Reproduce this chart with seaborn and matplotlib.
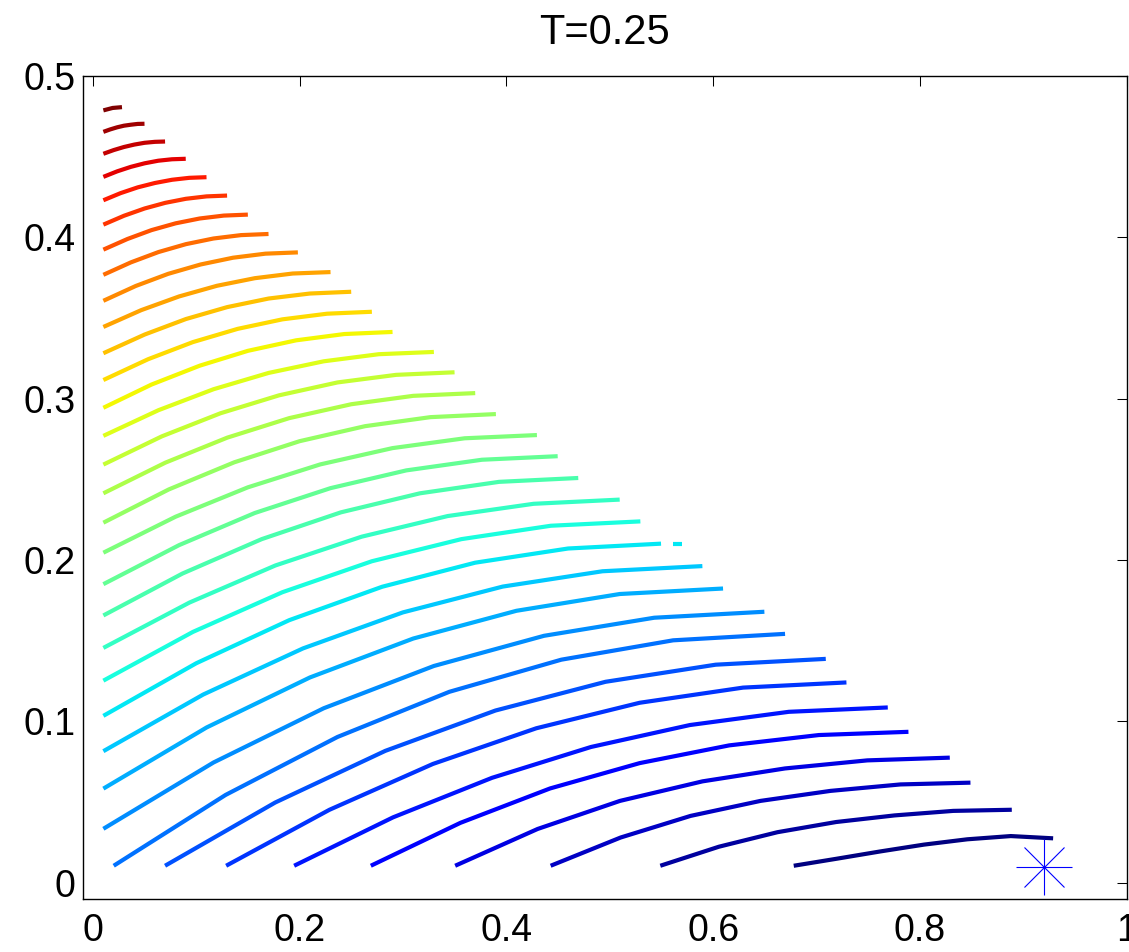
import numpy as np
import pandas as pd
import matplotlib
matplotlib.use("Agg")
import matplotlib.pyplot as plt
import seaborn as sns

title_text = "T=0.25"
x_ticks = [0, 0.2, 0.4, 0.6, 0.8, 1.0]
x_tick_labels = ["0", "0.2", "0.4", "0.6", "0.8", "1"]
y_ticks = [0, 0.1, 0.2, 0.3, 0.4, 0.5]
y_tick_labels = ["0", "0.1", "0.2", "0.3", "0.4", "0.5"]

curve_x = [
    [0.0100, 0.0190, 0.0280],
    [0.0100, 0.0166, 0.0233, 0.0299, 0.0365, 0.0432, 0.0498],
    [0.0100, 0.0200, 0.0299, 0.0399, 0.0498, 0.0598, 0.0697],
    [0.0100, 0.0233, 0.0366, 0.0499, 0.0631, 0.0764, 0.0897],
    [0.0100, 0.0266, 0.0433, 0.0599, 0.0765, 0.0932, 0.1098],
    [0.0100, 0.0300, 0.0499, 0.0699, 0.0898, 0.1098, 0.1297],
    [0.0100, 0.0333, 0.0566, 0.0799, 0.1032, 0.1265, 0.1498],
    [0.0100, 0.0366, 0.0633, 0.0899, 0.1165, 0.1432, 0.1698],
    [0.0100, 0.0414, 0.0727, 0.1041, 0.1355, 0.1668, 0.1982],
    [0.0100, 0.0466, 0.0833, 0.1199, 0.1565, 0.1932, 0.2298],
    [0.0100, 0.0500, 0.0899, 0.1299, 0.1699, 0.2098, 0.2498],
    [0.0100, 0.0533, 0.0966, 0.1399, 0.1832, 0.2265, 0.2698],
    [0.0100, 0.0566, 0.1033, 0.1499, 0.1965, 0.2432, 0.2898],
    [0.0100, 0.0633, 0.1166, 0.1699, 0.2232, 0.2765, 0.3298],
    [0.0100, 0.0666, 0.1233, 0.1799, 0.2365, 0.2932, 0.3498],
    [0.0100, 0.0700, 0.1299, 0.1899, 0.2499, 0.3098, 0.3698],
    [0.0100, 0.0733, 0.1366, 0.1999, 0.2632, 0.3265, 0.3898],
    [0.0100, 0.0799, 0.1498, 0.2198, 0.2897, 0.3596, 0.4295],
    [0.0100, 0.0833, 0.1565, 0.2298, 0.3031, 0.3763, 0.4496],
    [0.0100, 0.0866, 0.1632, 0.2398, 0.3163, 0.3929, 0.4695],
    [0.0100, 0.0933, 0.1765, 0.2598, 0.3431, 0.4263, 0.5096],
    [0.0100, 0.0966, 0.1832, 0.2698, 0.3564, 0.4430, 0.5296],
    [0.0100, 0.0999, 0.1899, 0.2798, 0.3697, 0.4597, 0.5496],
    [0.0100, 0.1066, 0.2032, 0.2998, 0.3964, 0.4930, 0.5896],
    [0.0100, 0.1099, 0.2099, 0.3098, 0.4097, 0.5097, 0.6096],
    [0.0100, 0.1166, 0.2232, 0.3298, 0.4364, 0.5430, 0.6496],
    [0.0200, 0.1283, 0.2365, 0.3448, 0.4531, 0.5613, 0.6696],
    [0.0697, 0.1763, 0.2828, 0.3894, 0.4959, 0.6025, 0.7090],
    [0.1288, 0.2288, 0.3289, 0.4289, 0.5289, 0.6290, 0.7290],
    [0.1946, 0.2903, 0.3861, 0.4818, 0.5775, 0.6733, 0.7690],
    [0.2688, 0.3555, 0.4422, 0.5289, 0.6156, 0.7023, 0.7890],
    [0.3504, 0.4302, 0.5099, 0.5897, 0.6695, 0.7492, 0.8290],
    [0.4428, 0.5105, 0.5782, 0.6459, 0.7136, 0.7813, 0.8490],
    [0.5489, 0.6056, 0.6623, 0.7190, 0.7756, 0.8323, 0.8890],
    [0.6780, 0.7200, 0.7620, 0.8040, 0.8460, 0.8880, 0.9290],
]
curve_y = [
    [0.4787, 0.4802, 0.4807],
    [0.4654, 0.4669, 0.4682, 0.4692, 0.4698, 0.4703, 0.4704],
    [0.4518, 0.4541, 0.4560, 0.4575, 0.4586, 0.4592, 0.4594],
    [0.4375, 0.4409, 0.4437, 0.4459, 0.4475, 0.4484, 0.4487],
    [0.4230, 0.4274, 0.4310, 0.4337, 0.4357, 0.4369, 0.4373],
    [0.4079, 0.4134, 0.4179, 0.4214, 0.4239, 0.4254, 0.4259],
    [0.3924, 0.3990, 0.4045, 0.4087, 0.4117, 0.4135, 0.4141],
    [0.3768, 0.3845, 0.3909, 0.3958, 0.3993, 0.4014, 0.4021],
    [0.3607, 0.3699, 0.3774, 0.3832, 0.3874, 0.3899, 0.3907],
    [0.3445, 0.3549, 0.3634, 0.3700, 0.3747, 0.3776, 0.3785],
    [0.3282, 0.3398, 0.3494, 0.3568, 0.3621, 0.3652, 0.3663],
    [0.3116, 0.3245, 0.3351, 0.3433, 0.3492, 0.3527, 0.3539],
    [0.2944, 0.3088, 0.3205, 0.3297, 0.3362, 0.3401, 0.3414],
    [0.2770, 0.2929, 0.3059, 0.3160, 0.3232, 0.3276, 0.3290],
    [0.2592, 0.2767, 0.2910, 0.3021, 0.3101, 0.3148, 0.3164],
    [0.2414, 0.2604, 0.2759, 0.2880, 0.2966, 0.3018, 0.3035],
    [0.2232, 0.2438, 0.2606, 0.2737, 0.2830, 0.2886, 0.2905],
    [0.2046, 0.2269, 0.2451, 0.2593, 0.2694, 0.2755, 0.2775],
    [0.1851, 0.2093, 0.2292, 0.2446, 0.2556, 0.2622, 0.2644],
    [0.1657, 0.1917, 0.2130, 0.2296, 0.2414, 0.2485, 0.2509],
    [0.1456, 0.1737, 0.1967, 0.2145, 0.2273, 0.2349, 0.2375],
    [0.1253, 0.1555, 0.1801, 0.1993, 0.2130, 0.2213, 0.2240],
    [0.1035, 0.1361, 0.1628, 0.1835, 0.1984, 0.2072, 0.2102],
    [0.0816, 0.1167, 0.1453, 0.1676, 0.1836, 0.1931, 0.1963],
    [0.0584, 0.0963, 0.1273, 0.1514, 0.1686, 0.1790, 0.1824],
    [0.0335, 0.0746, 0.1082, 0.1344, 0.1531, 0.1643, 0.1680],
    [0.0106, 0.0545, 0.0904, 0.1184, 0.1383, 0.1503, 0.1543],
    [0.0106, 0.0498, 0.0818, 0.1068, 0.1246, 0.1352, 0.1388],
    [0.0106, 0.0453, 0.0737, 0.0958, 0.1116, 0.1210, 0.1242],
    [0.0106, 0.0406, 0.0651, 0.0842, 0.0978, 0.1060, 0.1087],
    [0.0106, 0.0372, 0.0585, 0.0742, 0.0852, 0.0916, 0.0936],
    [0.0106, 0.0334, 0.0508, 0.0629, 0.0709, 0.0759, 0.0776],
    [0.0106, 0.0281, 0.0415, 0.0508, 0.0570, 0.0610, 0.0621],
    [0.0106, 0.0224, 0.0314, 0.0377, 0.0418, 0.0446, 0.0453],
    [0.0106, 0.0150, 0.0195, 0.0237, 0.0270, 0.0290, 0.0276],
]
# small detached piece belonging to curve index 22
fragment_x = [0.561, 0.570]
fragment_y = [0.2100, 0.2100]
fragment_of = 22

star_x = [0.92]
star_y = [0.01]

sns.set_theme(style="white")
plt.rcParams["font.family"] = ["Liberation Sans", "DejaVu Sans"]
plt.rcParams["text.color"] = "black"
plt.rcParams["axes.labelcolor"] = "black"
plt.rcParams["xtick.color"] = "black"
plt.rcParams["ytick.color"] = "black"

n = len(curve_x)
jet = matplotlib.colormaps["jet"]
rows = []
palette = {}
for i in range(n):
    key = f"c{i:02d}"
    palette[key] = jet(1.0 - i / (n - 1))
    for j, (xv, yv) in enumerate(zip(curve_x[i], curve_y[i])):
        rows.append({"x": xv, "y": yv, "seg": key, "order": j})
fkey = "frag"
palette[fkey] = palette[f"c{fragment_of:02d}"]
for j, (xv, yv) in enumerate(zip(fragment_x, fragment_y)):
    rows.append({"x": xv, "y": yv, "seg": fkey, "order": j})
df = pd.DataFrame(rows)

fig = plt.figure(figsize=(11.29, 9.52), dpi=100)
ax = fig.add_axes([0.07325, 0.05567, 0.99779 - 0.07325, 0.92017 - 0.05567])

sns.lineplot(data=df, x="x", y="y", hue="seg", palette=palette,
             estimator=None, sort=False, legend=False, linewidth=3.0,
             solid_capstyle="butt", solid_joinstyle="round", ax=ax)

ax.plot(star_x, star_y, linestyle="none", marker="+", markersize=40,
        markeredgewidth=0.8, color="#0000ff")
ax.plot(star_x, star_y, linestyle="none", marker="x", markersize=29,
        markeredgewidth=0.8, color="#0000ff")

ax.set_xlim(-0.01, 1.0)
ax.set_ylim(-0.01, 0.5)
ax.set_xticks(x_ticks)
ax.set_xticklabels(x_tick_labels)
ax.set_yticks(y_ticks)
ax.set_yticklabels(y_tick_labels)
ax.set_xlabel("")
ax.set_ylabel("")
ax.tick_params(axis="both", direction="in", top=True, right=True,
               length=7.2, width=0.75, colors="black", labelsize=27,
               labelcolor="black")
ax.tick_params(axis="x", pad=10)
ax.tick_params(axis="y", pad=5)
for s in ax.spines.values():
    s.set_visible(True)
    s.set_color("black")
    s.set_linewidth(1.0)
ax.set_facecolor("white")
ax.set_title(title_text, fontsize=30, pad=23, color="black")

fig.savefig("out.png", dpi=100, facecolor="white")
